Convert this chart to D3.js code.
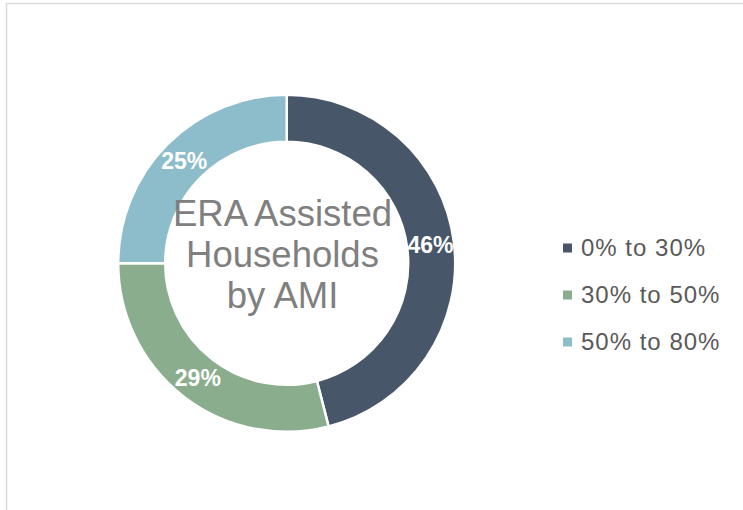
<!DOCTYPE html>
<meta charset="utf-8">
<style>
body { margin: 0; background: #fff; }
svg { display: block; font-family: "Liberation Sans", Arial, sans-serif; }
</style>
<body>
<svg width="743" height="510"></svg>
<script src="https://d3js.org/d3.v7.min.js"></script>
<script>
// ERA assisted households, share by AMI band
var categories = ["0% to 30%", "30% to 50%", "50% to 80%"];
var shares = [46, 29, 25];
var colors = ["#475669", "#8aae8d", "#8dbdca"];
var titleLines = ["ERA Assisted", "Households", "by AMI"];

var svg = d3.select("svg");

// chart area frame (only top and left edges show in the window)
svg.append("rect")
    .attr("x", 6.5)
    .attr("y", 3.5)
    .attr("width", 900)
    .attr("height", 700)
    .attr("fill", "none")
    .attr("stroke", "#d9d9d9")
    .attr("stroke-width", 1.5);

var cx = 286.7, cy = 263.3,
    outerR = 168.5, innerR = 121.5;

var data = categories.map(function(c, i) { return {name: c, value: shares[i]}; });

var color = d3.scaleOrdinal()
    .domain(categories)
    .range(colors);

var pie = d3.pie()
    .sort(null)
    .value(function(d) { return d.value; });

var arc = d3.arc()
    .innerRadius(innerR)
    .outerRadius(outerR);

var labelArc = d3.arc()
    .innerRadius(145)
    .outerRadius(145);

var g = svg.append("g")
    .attr("transform", "translate(" + cx + "," + cy + ")");

g.selectAll("path")
    .data(pie(data))
    .enter().append("path")
      .attr("d", arc)
      .attr("fill", function(d) { return color(d.data.name); })
      .attr("stroke", "#fff")
      .attr("stroke-width", 2.5);

g.selectAll("text.lbl")
    .data(pie(data))
    .enter().append("text")
      .attr("class", "lbl")
      .attr("transform", function(d) { return "translate(" + labelArc.centroid(d) + ")"; })
      .attr("text-anchor", "middle")
      .attr("dy", "0.36em")
      .attr("fill", "#fff")
      .attr("font-weight", "bold")
      .attr("font-size", 23)
      .text(function(d) { return d.data.value + "%"; });

// title in the hole
g.append("text")
    .attr("text-anchor", "middle")
    .attr("fill", "#7f7f7f")
    .attr("font-size", 36.5)
  .selectAll("tspan")
  .data(titleLines)
  .enter().append("tspan")
    .attr("x", -4.2)
    .attr("y", function(d, i) { return -37.3 + i * 41; })
    .text(function(d) { return d; });

// legend
var legend = svg.append("g")
    .selectAll("g")
    .data(categories)
    .enter().append("g")
      .attr("transform", function(d, i) { return "translate(563," + (248 + i * 47) + ")"; });

legend.append("rect")
    .attr("x", 0)
    .attr("y", -4.5)
    .attr("width", 9)
    .attr("height", 9)
    .attr("fill", color);

legend.append("text")
    .attr("x", 18)
    .attr("dy", "0.35em")
    .attr("fill", "#595959")
    .attr("font-size", 24)
    .attr("letter-spacing", 1)
    .text(function(d) { return d; });
</script>
</body>
